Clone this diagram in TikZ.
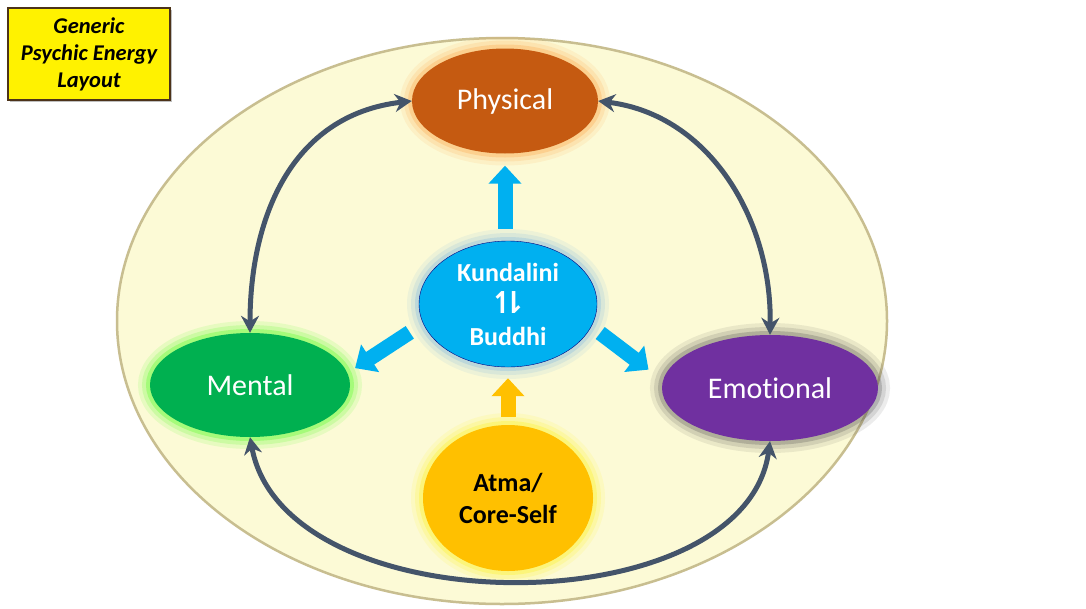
\documentclass[tikz,border=0pt]{standalone}
\usepackage{fontspec}
\setmainfont{Carlito}[Ligatures=NoCommon]
\newfontfamily\psyarrowfont{DejaVu Sans}
\usetikzlibrary{arrows.meta,shapes.geometric,shadows}

\definecolor{psyfield}{HTML}{FCFAD6}
\definecolor{psyrim}{HTML}{C8BE90}
\definecolor{psyphys}{HTML}{C55A11}
\definecolor{psyment}{HTML}{00B050}
\definecolor{psyemot}{HTML}{7030A0}
\definecolor{psykund}{HTML}{00B0F0}
\definecolor{psyatma}{HTML}{FFC000}
\definecolor{psyslate}{HTML}{44546A}

\newcommand\psytextstyle{\fontsize{30}{36}\selectfont}
\newcommand\psyboldstyle{\fontsize{26}{32}\selectfont\bfseries}
\newcommand\psytitlestyle{\fontsize{22.5}{27}\selectfont\bfseries\itshape}

\tikzset{
  psyglow/.style={preaction={draw=#1, draw opacity=.10, line width=24pt},
                  preaction={draw=#1, draw opacity=.15, line width=16pt},
                  preaction={draw=#1, draw opacity=.25, line width=8pt}},
  psyball/.style={ellipse, inner sep=0pt, align=center},
  psycycle/.style={{Stealth[length=17pt,width=18pt]}-{Stealth[length=17pt,width=18pt]},
                   line width=5pt, draw=psyslate},
  psyblock/.style={-{Triangle[length=18pt,width=32pt]}, line width=15pt, draw=#1}
}

\begin{document}
\begin{tikzpicture}[x=1pt,y=-1pt]
  \useasboundingbox (0,0) rectangle (1086,608);
  \fill[white] (0,0) rectangle (1086,608);

  \node[ellipse, minimum width=770pt, minimum height=566pt, fill=psyfield,
        draw=psyrim, line width=2.5pt] (field) at (502,321) {};

  \node[draw=black!60!brown, line width=1.5pt, fill=yellow, drop shadow,
        minimum width=162pt, minimum height=92pt, align=center,
        font=\psytitlestyle] (title) at (89,54) {Generic\\Psychic Energy\\Layout};

  \node[psyball, psyglow=orange!80, fill=psyphys, minimum width=186pt, minimum height=105pt,
        text=white, font=\psytextstyle] (physical) at (505,101) {Physical};
  \node[psyball, psyglow=green!80!yellow, fill=psyment, minimum width=200pt, minimum height=104pt,
        text=white, font=\psytextstyle] (mental) at (250,385) {Mental};
  \node[psyball, psyglow=black!70, fill=psyemot, minimum width=216pt, minimum height=106pt,
        text=white, font=\psytextstyle] (emotional) at (770,388) {Emotional};
  \node[psyball, psyglow=cyan!70!blue!60, fill=psykund, draw=blue!50!black, minimum width=178pt,
        minimum height=126pt, text=white, font=\psyboldstyle] (kund) at (508,304)
        {Kundalini\\{\psyarrowfont\fontsize{30}{32}\selectfont ↿\kern-.46em⇂}\\Buddhi};
  \node[psyball, psyglow=yellow, fill=psyatma, minimum width=170pt, minimum height=146pt,
        font=\psyboldstyle] (atma) at (508,498) {Atma/\\Core-Self};

  \draw[psycycle] (physical.west) .. controls (290,115) and (250,220) .. (mental.north);
  \draw[psycycle] (physical.east) .. controls (710,115) and (772,220) .. (emotional.north);
  \draw[psycycle] (mental.south) .. controls (285,627) and (745,627) .. (emotional.south);

  \draw[psyblock=psykund, shorten <=12pt, shorten >=12pt] (kund.north -| physical.south) -- (physical.south);
  \draw[psyblock=psykund, shorten <=16pt, shorten >=9pt] (kund.193) -- (mental.7);
  \draw[psyblock=psykund, shorten <=11pt, shorten >=18pt] (kund.345) -- (emotional.176);
  \draw[psyblock=psyatma, shorten <=8pt, shorten >=11pt] (atma.north) -- (kund.south);
\end{tikzpicture}
\end{document}
